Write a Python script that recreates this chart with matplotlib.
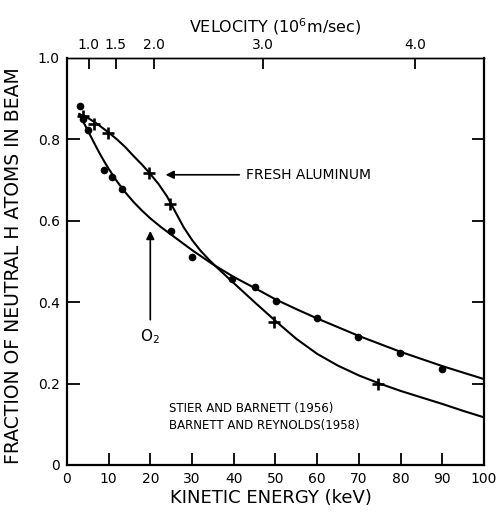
import numpy as np
import matplotlib
matplotlib.use("Agg")
import matplotlib.pyplot as plt

# ---- data ----
o2_x = [3.1, 3.8, 5.1, 8.9, 10.9, 13.1, 24.9, 30.0, 39.7, 45.1, 50.1, 59.9, 69.9, 79.9, 89.9]
o2_y = [0.882, 0.849, 0.823, 0.725, 0.707, 0.677, 0.576, 0.510, 0.457, 0.437, 0.404, 0.360, 0.314, 0.276, 0.237]

al_x = [3.9, 6.5, 9.9, 19.7, 24.7, 49.6, 74.7]
al_y = [0.857, 0.837, 0.815, 0.718, 0.641, 0.352, 0.199]

o2_curve_x = [3, 4, 5, 6, 7, 8, 9, 10, 12, 14, 16, 18, 20, 22.5, 25, 30, 35, 40, 45,
              50, 55, 60, 70, 80, 90, 100]
o2_curve_y = [0.862, 0.842, 0.822, 0.802, 0.782, 0.763, 0.745, 0.728, 0.697, 0.670,
              0.646, 0.625, 0.606, 0.585, 0.566, 0.528, 0.493, 0.462, 0.435,
              0.407, 0.383, 0.360, 0.317, 0.278, 0.243, 0.211]

al_curve_x = [3, 5, 7, 10, 12, 14, 16, 18, 20, 22, 24, 26, 28, 30, 32, 34, 36, 38, 40,
              45, 50, 55, 60, 65, 70, 75, 80, 85, 90, 95, 100]
al_curve_y = [0.862, 0.853, 0.840, 0.817, 0.800, 0.781, 0.759, 0.738, 0.715, 0.690,
              0.660, 0.622, 0.584, 0.553, 0.527, 0.505, 0.485, 0.466, 0.447,
              0.400, 0.354, 0.310, 0.273, 0.244, 0.220, 0.200, 0.182, 0.166, 0.150,
              0.133, 0.117]

x_ticks = [0, 10, 20, 30, 40, 50, 60, 70, 80, 90, 100]
x_ticklabels = ["0", "10", "20", "30", "40", "50", "60", "70", "80", "90", "100"]
y_ticks = [0, 0.2, 0.4, 0.6, 0.8, 1.0]
y_ticklabels = ["0", "0.2", "0.4", "0.6", "0.8", "1.0"]
v_ticks = [1.0, 1.5, 2.0, 3.0, 4.0]
v_ticklabels = ["1.0", "1.5", "2.0", "3.0", "4.0"]

# velocity of H atom in 1e6 m/s for energy in keV
K = 0.4377

plt.rcParams['font.family'] = ['DejaVu Sans']
fig = plt.figure(figsize=(4.99, 5.12), dpi=100)
ax = fig.add_axes([0.134, 0.0918, 0.836, 0.795])

ax.plot(o2_curve_x, o2_curve_y, color='black', lw=1.5, solid_joinstyle='round')
ax.plot(al_curve_x, al_curve_y, color='black', lw=1.5, solid_joinstyle='round')
ax.plot(o2_x, o2_y, 'o', color='black', ms=4.5)
ax.plot(al_x, al_y, '+', color='black', ms=9, mew=1.9)

ax.set_xlim(0, 100)
ax.set_ylim(0, 1.0)
ax.set_xticks(x_ticks)
ax.set_xticklabels(x_ticklabels, fontsize=10)
ax.set_yticks(y_ticks)
ax.set_yticklabels(y_ticklabels, fontsize=10)
ax.tick_params(axis='both', direction='in', length=9, width=1.3, pad=5)
ax.tick_params(axis='y', right=True)
for s in ax.spines.values():
    s.set_linewidth(1.6)
ax.spines['top'].set_linewidth(1.0)
ax.yaxis.get_major_ticks()[0].tick1line.set_visible(False)
ax.yaxis.get_major_ticks()[0].tick2line.set_visible(False)
ax.yaxis.get_major_ticks()[-1].tick1line.set_visible(False)
ax.yaxis.get_major_ticks()[-1].tick2line.set_visible(False)
ax.xaxis.get_major_ticks()[0].tick1line.set_visible(False)
ax.xaxis.get_major_ticks()[-1].tick1line.set_visible(False)

def fwd(e):
    return K * np.sqrt(np.clip(e, 0, None))

def inv(v):
    return (np.asarray(v) / K) ** 2

sec = ax.secondary_xaxis('top', functions=(fwd, inv))
sec.set_xticks(v_ticks)
sec.set_xticklabels(v_ticklabels, fontsize=10)
sec.tick_params(direction='in', length=8, width=1.3, pad=4)
sec.spines['top'].set_linewidth(1.0)
sec.set_xlabel(r"VELOCITY (10$^{6}$m/sec)", fontsize=11.5, labelpad=4)

ax.set_xlabel("KINETIC ENERGY (keV)", fontsize=13)
ax.xaxis.set_label_coords(0.49, -0.06)
ax.set_ylabel("FRACTION OF NEUTRAL H ATOMS IN BEAM", fontsize=13.5)
ax.yaxis.set_label_coords(-0.105, 0.49)

# annotations
ax.annotate("", xy=(23, 0.713), xytext=(42, 0.713),
            arrowprops=dict(arrowstyle='-|>', color='black', lw=1.2,
                            mutation_scale=12))
ax.text(43, 0.713, "FRESH ALUMINUM", fontsize=10, va='center', ha='left')
ax.annotate("", xy=(20, 0.582), xytext=(20, 0.35),
            arrowprops=dict(arrowstyle='-|>', color='black', lw=1.2,
                            mutation_scale=12))
ax.text(20, 0.315, r"O$_2$", fontsize=11, ha='center', va='center')
ax.text(24.5, 0.138, "STIER AND BARNETT (1956)", fontsize=8.5, va='center')
ax.text(24.5, 0.096, "BARNETT AND REYNOLDS(1958)", fontsize=8.5, va='center')

fig.savefig("out.png", dpi=100)
